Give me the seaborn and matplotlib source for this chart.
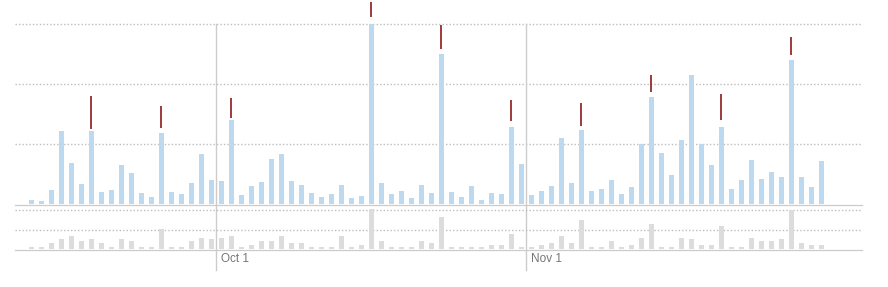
import numpy as np
import pandas as pd
import matplotlib
matplotlib.use("Agg")
import matplotlib.pyplot as plt
import seaborn as sns

# ---------------- data ----------------
start_date = "2013-09-12"
n_days = 80
# top panel (daily totals)
top_values = [4, 3, 14, 73, 41, 20, 73, 12, 14, 39,
              31, 11, 7, 71, 12, 10, 21, 50, 24, 23,
              84, 9, 18, 22, 45, 50, 23, 19, 11, 7,
              10, 19, 6, 8, 180, 21, 10, 13, 6, 19,
              11, 150, 12, 7, 18, 4, 11, 10, 77, 40,
              9, 13, 18, 66, 21, 74, 13, 15, 24, 10,
              17, 60, 107, 51, 29, 64, 129, 60, 39, 77,
              15, 24, 44, 25, 32, 27, 144, 27, 17, 43]
# bottom panel (secondary daily counts)
bottom_values = [2, 2, 6, 10, 13, 8, 10, 6, 2.5, 10,
                 8, 2.5, 2, 20, 2.5, 2, 8, 11, 10, 11,
                 13, 2, 4, 8, 8, 13, 6, 6, 2.5, 2,
                 2.5, 13, 2, 4, 40, 8, 2, 2.5, 2.5, 8,
                 6, 32, 2.5, 2.5, 2.5, 2, 4, 4, 15, 2.5,
                 2, 4, 6, 13, 6, 29, 2.5, 2.5, 8, 2,
                 4, 11, 25, 2.5, 2.5, 11, 10, 4, 4, 23,
                 2.5, 2.5, 11, 8, 8, 10, 39, 6, 4, 4]
# weekly markers (day index, low, high)
marker_days = [6, 13, 20, 34, 41, 48, 55, 62, 69, 76]
marker_low = [75, 76, 86, 187, 155, 83, 78, 112, 84, 149]
marker_high = [108, 98, 106, 202, 179, 104, 101, 129, 110, 167]
tick_dates = ["2013-10-01", "2013-11-01"]
tick_labels = ["Oct 1", "Nov 1"]

# ---------------- build ----------------
dates = pd.date_range(start_date, periods=n_days)
t0 = dates[0]
day_pos = np.array([(d - t0).days for d in dates]) + 0.5
df = pd.DataFrame({"pos": day_pos, "top": top_values, "bottom": bottom_values})
tick_pos = [(pd.Timestamp(t) - t0).days for t in tick_dates]

W, H = 888, 287
fig = plt.figure(figsize=(W / 100, H / 100), dpi=100)

def px_axes(left, top, right, bottom):
    return fig.add_axes([left / W, 1 - bottom / H, (right - left) / W, (bottom - top) / H])

ax_top = px_axes(15, 0, 862, 204)
ax_bot = px_axes(15, 205, 862, 249)

blue = "#bcd9f0"
gray_bar = "#dcdcdc"
grid_c = "#bdbdbd"
line_c = "#cccccc"

sns.barplot(data=df, x="pos", y="top", native_scale=True, width=0.5,
            color=blue, linewidth=0, saturation=1, ax=ax_top, zorder=3)
sns.barplot(data=df, x="pos", y="bottom", native_scale=True, width=0.5,
            color=gray_bar, linewidth=0, saturation=1, ax=ax_bot, zorder=3)

xlim = (-1.13, 83.57)
for ax in (ax_top, ax_bot):
    ax.set_xlim(*xlim)
    for s in ax.spines.values():
        s.set_visible(False)
    ax.set_xticks([])
    ax.set_yticks([])
    ax.set_xlabel("")
    ax.set_ylabel("")
    ax.patch.set_alpha(0)

ax_top.set_ylim(0, 204)
ax_bot.set_ylim(0, 44)

for g in (60, 120, 180):
    ax_top.axhline(g, color=grid_c, lw=1, ls=(0, (1, 1.5)), zorder=1)
ax_top.axhline(-0.5, color=line_c, lw=0.9, zorder=2, clip_on=False)
for g in (19.5, 39):
    ax_bot.axhline(g, color=grid_c, lw=1, ls=(0, (1, 1.5)), zorder=1)
ax_bot.axhline(-0.5, color=line_c, lw=0.9, zorder=2, clip_on=False)

# month separators
for tp, lab in zip(tick_pos, tick_labels):
    ax_top.plot([tp, tp], [180, -66], color=line_c, lw=1, clip_on=False, zorder=2)
    ax_bot.text(tp + 0.45, -9.5, lab, ha="left", va="center", fontsize=8.5,
                color="#777777", family=["Liberation Sans", "DejaVu Sans"], clip_on=False)

# weekly red markers
mx = [day_pos[d] for d in marker_days]
ax_top.vlines(mx, marker_low, marker_high, color="#8b1a1a", lw=1.2, clip_on=False, zorder=5)

fig.savefig("out.png", dpi=100)
